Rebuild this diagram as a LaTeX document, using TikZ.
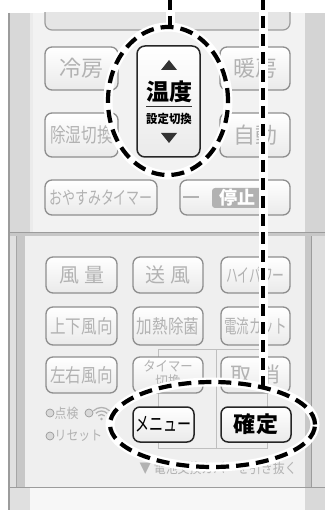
\documentclass[tikz,border=0pt]{standalone}
\usepackage{fontspec}
\setmainfont{Noto Sans CJK JP}
\usetikzlibrary{shapes.geometric}
\definecolor{btnline}{HTML}{8E8E8E}
\definecolor{btntext}{HTML}{B2B2B2}
\definecolor{btnbot}{HTML}{EAEAEA}
\definecolor{panel}{HTML}{F2F2F2}
\definecolor{panellow}{HTML}{EFEFEF}
\definecolor{strip}{HTML}{D8D8D8}
\definecolor{edge}{HTML}{9C9C9C}
\newcommand\myfs[1]{\fontsize{#1}{#1}\selectfont}
\newcommand\cond[2]{\scalebox{#1}[1]{#2}}
\begin{document}
\begin{tikzpicture}[x=1pt,y=-1pt,
  gbtn/.style={draw=btnline, line width=1.3pt, rounded corners=7pt, top color=white, bottom color=btnbot, text=btntext, inner sep=0pt, font=\myfs{20}},
  kbtn/.style={gbtn, draw=black!85, line width=1.5pt, text=black},
  halo/.style={white, line width=9pt},
  blackdash/.style={black, line width=4pt, dash pattern=on 12pt off 6pt},
  ringdash/.style={black, line width=4.2pt, dash pattern=on 13pt off 7pt},
  ringhalo/.style={white, line width=9pt},
  ring/.style={ellipse, inner sep=0pt},
  smalltxt/.style={text=btntext, inner sep=0pt, font=\myfs{13.5}},
  guide/.style={draw=black!25, line width=0.8pt}
]
\useasboundingbox (0,0) rectangle (325,510);
\fill[white] (0,0) rectangle (325,510);
% ---------- upper body
\fill[panel] (8,13) rectangle (325,232);
\fill[strip] (10,13) rectangle (30,232);
\fill[black!8] (30,13) rectangle (33,232);
\fill[black!17] (305,13) rectangle (325,232);
\begin{scope}
  \clip (0,13) rectangle (325,232);
  \draw[fill=black!10, draw=edge, line width=1.2pt, rounded corners=7pt] (45,-10) rectangle (290,30);
\end{scope}
% ---------- lower body
\fill[panellow] (8,232) rectangle (325,487);
\fill[black!22] (8,232) rectangle (325,236);
\fill[black!12] (9,236) rectangle (16,487);
\fill[black!22] (17,236) rectangle (25,487);
\draw[black!35, line width=0.8pt] (16.5,236) -- (16.5,487);
\fill[black!22] (305,236) rectangle (311,487);
\fill[black!13] (311.5,236) rectangle (325,487);
\draw[edge, line width=0.8pt] (311,236) -- (311,487);
\draw[edge, line width=1pt] (8,232) -- (325,232);
% ---------- bottom part
\fill[black!3] (8,488) rectangle (325,510);
\fill[black!12] (10,488) rectangle (30,510);
\fill[black!15] (305,488) rectangle (325,510);
\draw[edge, line width=1pt] (8,487.5) -- (325,487.5);
\draw[edge, line width=1.2pt] (9,13) -- (9,510);
% ---------- upper buttons
\node[gbtn, minimum width=73pt, minimum height=43pt, font=\myfs{22}] (reibo) at (81.5,68.5) {冷房};
\node[gbtn, minimum width=70pt, minimum height=43pt, font=\myfs{22}] (danbo) at (255,68.5) {暖房};
\node[gbtn, minimum width=73pt, minimum height=44pt] (joshitsu) at (81.5,135) {\cond{0.78}{除湿切換}};
\node[gbtn, minimum width=70pt, minimum height=44pt, font=\myfs{22}] (jido) at (255,135) {自動};
\node[gbtn, minimum width=112pt, minimum height=35pt, font=\myfs{18}] (oyasumi) at (101,197.5) {\cond{0.72}{おやすみタイマー}};
\node[gbtn, minimum width=110pt, minimum height=35pt] (teishi) at (235,197.5) {};
\draw[btntext, line width=1.3pt] (183,197) -- (199,197);
\node[fill=black!30, rounded corners=3pt, minimum width=50pt, minimum height=20pt, inner sep=0pt, text=white, font=\myfs{18}\bfseries] (teishitxt) at (237,198) {停止};
% temperature button
\node[kbtn, rounded corners=8pt, minimum width=63pt, minimum height=111pt] (ondo) at (168.5,101.5) {};
\fill[black!80] (161,70) -- (177,70) -- (169,60) -- cycle;
\node[inner sep=0pt, font=\myfs{23}\bfseries] (ondotxt) at (169,92) {温度};
\draw[black!80, line width=0.8pt] (146,106) -- (192,106);
\node[inner sep=0pt, font=\myfs{12}\bfseries] (settei) at (169,118.5) {\cond{0.95}{設定切換}};
\fill[black!80] (161,133) -- (177,133) -- (169,143) -- cycle;
% ---------- lower buttons
\draw[guide] (158,349) rectangle (267,448);
\draw[guide] (216,349) -- (216,448);
\node[gbtn, minimum width=71pt, minimum height=36pt] (furyo) at (81.5,275) {風\hspace{5pt}量};
\node[gbtn, minimum width=70pt, minimum height=36pt] (sofu) at (168,275) {送\hspace{5pt}風};
\node[gbtn, minimum width=69pt, minimum height=36pt, font=\myfs{19}] (hipower) at (255.5,275) {\cond{0.62}{ハイパワー}};
\node[gbtn, minimum width=71pt, minimum height=38pt, font=\myfs{19}] (joge) at (81.5,326) {\cond{0.82}{上下風向}};
\node[gbtn, minimum width=70pt, minimum height=38pt, font=\myfs{19}] (kanetsu) at (168,326) {\cond{0.82}{加熱除菌}};
\node[gbtn, minimum width=69pt, minimum height=38pt, font=\myfs{19}] (denryu) at (255.5,326) {\cond{0.66}{電流カット}};
\node[gbtn, minimum width=71pt, minimum height=36pt, font=\myfs{19}] (sayu) at (81.5,375) {\cond{0.82}{左右風向}};
\node[gbtn, minimum width=70pt, minimum height=36pt] (timer) at (168,375) {};
\node[smalltxt, font=\myfs{14}] (timer1) at (168,366.5) {\cond{0.88}{タイマー}};
\node[smalltxt, font=\myfs{14}] (timer2) at (168,381.5) {\cond{0.9}{切換}};
\node[gbtn, minimum width=69pt, minimum height=36pt, font=\myfs{21}] (torikeshi) at (255.5,375) {取\hspace{8pt}消};
\node[kbtn, minimum width=61pt, minimum height=35pt, font=\myfs{20}] (menu) at (163.5,424.5) {\cond{0.7}{メニュー}};
\node[kbtn, minimum width=70pt, minimum height=35pt, font=\myfs{22}\bfseries] (kakutei) at (256,424.5) {確\hspace{2pt}定};
% ---------- small labels
\node[circle, draw=black!40, fill=black!15, line width=0.7pt, minimum size=8pt, inner sep=0pt] (c1) at (50,413) {};
\node[smalltxt, anchor=west] (tenken) at (54.5,413) {\cond{0.88}{点検}};
\node[circle, draw=black!40, fill=black!15, line width=0.7pt, minimum size=8pt, inner sep=0pt] (c2) at (89,413) {};
\coordinate (wf) at (101.5,419);
\fill[btntext] (wf) circle (1.4pt);
\draw[btntext, line width=1.3pt] (wf) ++(45:4.5pt) arc[start angle=45, end angle=135, radius=4.5pt];
\draw[btntext, line width=1.3pt] (wf) ++(45:8pt) arc[start angle=45, end angle=135, radius=8pt];
\draw[btntext, line width=1.3pt] (wf) ++(45:11.5pt) arc[start angle=45, end angle=135, radius=11.5pt];
\node[circle, draw=black!40, fill=black!15, line width=0.7pt, minimum size=8pt, inner sep=0pt] (c3) at (50,436) {};
\node[smalltxt, anchor=west] (reset) at (54.5,436) {\cond{0.88}{リセット}};
\node[smalltxt, font=\myfs{14}] (denchi) at (218,468) {\cond{0.85}{▼ 電池交換カバーを引き抜く}};
% ---------- callout rings and leaders
\node[ring, minimum width=120pt, minimum height=148pt] (ring1) at (168,101) {};
\node[ring, minimum width=205pt, minimum height=85pt] (ring2) at (212.5,424.5) {};
\coordinate (t1) at (170,-2);
\coordinate (t2) at (263,-2);
\coordinate (e2) at (263,386);
\draw[halo] (t1) |- (ring1.north);
\draw[halo] (t2) -- (e2);
\draw[ringhalo] (ring1.center) ellipse [x radius=60pt, y radius=74pt];
\draw[ringhalo] (ring2.center) ellipse [x radius=102.5pt, y radius=42.5pt];
\draw[blackdash] (t1) |- (ring1.north);
\draw[blackdash] (t2) -- (e2);
\draw[ringdash] (ring1.center) ellipse [x radius=60pt, y radius=74pt];
\draw[ringdash] (ring2.center) ellipse [x radius=102.5pt, y radius=42.5pt];
\end{tikzpicture}
\end{document}
